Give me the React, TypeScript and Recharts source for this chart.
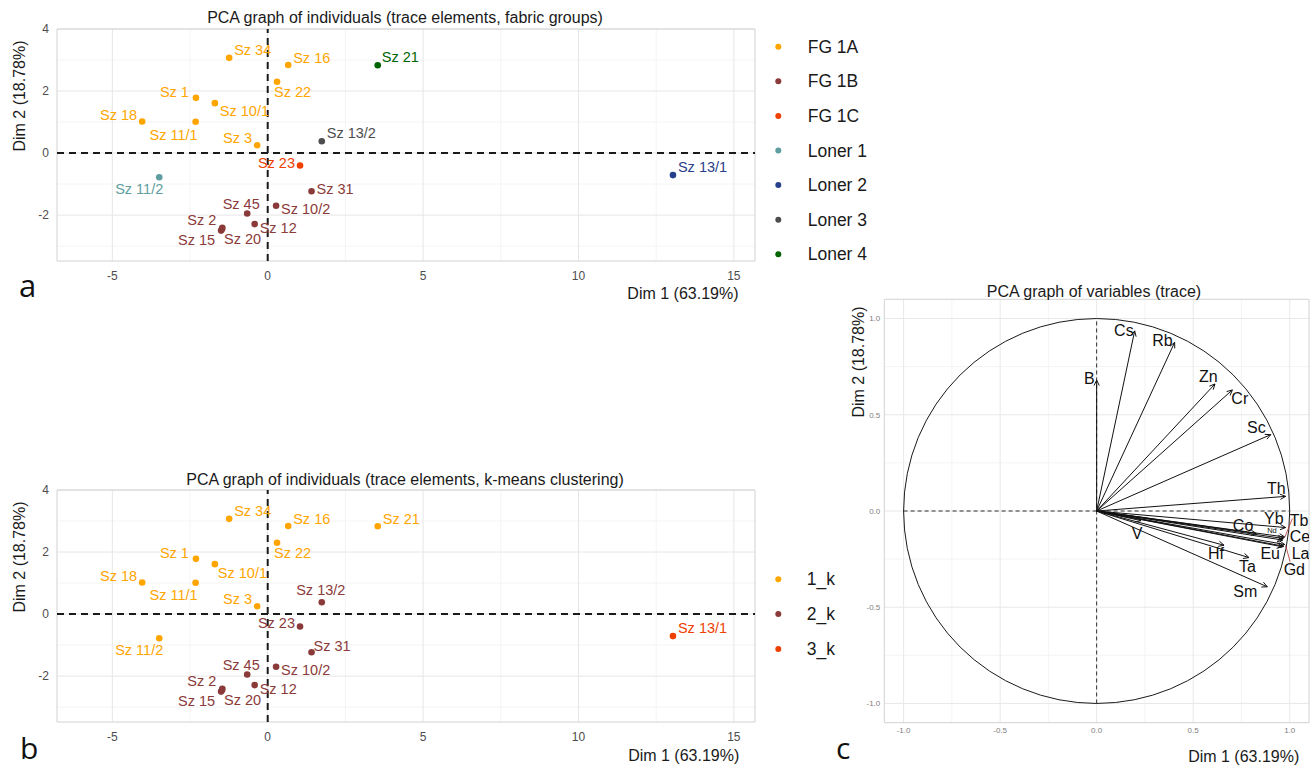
import React from 'react';
import {
  ScatterChart,
  Scatter,
  XAxis,
  YAxis,
  CartesianGrid,
  ReferenceLine,
  ReferenceArea,
} from 'recharts';

const FONT = '"Liberation Sans", Arial, Helvetica, sans-serif';

// ---------- individuals (panels a & b) ----------
const sampleNames = [
  'Sz 34', 'Sz 16', 'Sz 21', 'Sz 22', 'Sz 1', 'Sz 10/1', 'Sz 18', 'Sz 11/1', 'Sz 3', 'Sz 13/2',
  'Sz 23', 'Sz 11/2', 'Sz 31', 'Sz 10/2', 'Sz 45', 'Sz 12', 'Sz 2', 'Sz 15', 'Sz 20', 'Sz 13/1',
];
const dim1 = [
  -1.24, 0.66, 3.54, 0.30, -2.31, -1.70, -4.04, -2.32, -0.34, 1.74,
  1.04, -3.49, 1.41, 0.27, -0.66, -0.42, -1.46, -1.50, -1.47, 13.04,
];
const dim2 = [
  3.07, 2.84, 2.83, 2.30, 1.78, 1.61, 1.02, 1.01, 0.25, 0.38,
  -0.40, -0.78, -1.23, -1.70, -1.95, -2.29, -2.41, -2.50, -2.45, -0.71,
];
const fabricGroupOf = [
  'FG 1A', 'FG 1A', 'Loner 4', 'FG 1A', 'FG 1A', 'FG 1A', 'FG 1A', 'FG 1A', 'FG 1A', 'Loner 3',
  'FG 1C', 'Loner 1', 'FG 1B', 'FG 1B', 'FG 1B', 'FG 1B', 'FG 1B', 'FG 1B', 'FG 1B', 'Loner 2',
];
const clusterOf = [
  '1_k', '1_k', '1_k', '1_k', '1_k', '1_k', '1_k', '1_k', '1_k', '2_k',
  '2_k', '1_k', '2_k', '2_k', '2_k', '2_k', '2_k', '2_k', '2_k', '3_k',
];
const fabricGroups = ['FG 1A', 'FG 1B', 'FG 1C', 'Loner 1', 'Loner 2', 'Loner 3', 'Loner 4'];
const clusters = ['1_k', '2_k', '3_k'];

const groupColors: Record<string, string> = {
  'FG 1A': '#FFA500',
  'FG 1B': '#8B3A3A',
  'FG 1C': '#EE4000',
  'Loner 1': '#5F9EA0',
  'Loner 2': '#27408B',
  'Loner 3': '#4D4D4D',
  'Loner 4': '#006400',
  '1_k': '#FFA500',
  '2_k': '#8B3A3A',
  '3_k': '#EE4000',
};

const X_TICKS = [-5, 0, 5, 10, 15];
const X_MINOR = [-2.5, 2.5, 7.5, 12.5];
const Y_TICKS = [-2, 0, 2, 4];
const Y_MINOR = [-3, -1, 1, 3];
const X_DOMAIN: [number, number] = [-6.78, 15.68];
const Y_DOMAIN: [number, number] = [-3.48, 4];

// ---------- variables (panel c) ----------
const variableNames = ['B', 'Cs', 'Rb', 'Zn', 'Cr', 'Sc', 'Th', 'Yb', 'Tb', 'Ce', 'La', 'Gd', 'Eu', 'Nd', 'Co', 'Hf', 'Ta', 'Sm', 'V'];
const varDim1 = [0.0, 0.197, 0.404, 0.613, 0.703, 0.902, 0.979, 0.979, 0.974, 0.964, 0.969, 0.974, 0.962, 0.967, 0.827, 0.66, 0.789, 0.884, 0.23];
const varDim2 = [0.68, 0.936, 0.876, 0.66, 0.629, 0.397, 0.076, -0.086, -0.135, -0.151, -0.183, -0.174, -0.186, -0.143, -0.117, -0.178, -0.242, -0.394, -0.05];
const connectorFromX = [1.014, 0.979];
const connectorFromY = [-0.039, -0.178];
const connectorToX = [0.975, 1.002];
const connectorToY = [-0.135, -0.264];
const C_TICKS = [-1, -0.5, 0, 0.5, 1];
const C_MINOR = [-0.75, -0.25, 0.25, 0.75];
const C_DOMAIN: [number, number] = [-1.1, 1.1];

// ---------- label placement (layout only) ----------
type Off = { a: 'start' | 'middle' | 'end'; dx: number; dy: number };
const offsetsA: Record<string, Off> = {
  'Sz 34': { a: 'start', dx: 5, dy: -8 },
  'Sz 16': { a: 'start', dx: 5, dy: -7 },
  'Sz 21': { a: 'start', dx: 4, dy: -8 },
  'Sz 22': { a: 'start', dx: -3, dy: 10 },
  'Sz 1': { a: 'end', dx: -7, dy: -6 },
  'Sz 10/1': { a: 'start', dx: 5, dy: 8 },
  'Sz 18': { a: 'end', dx: -5, dy: -6 },
  'Sz 11/1': { a: 'end', dx: 2, dy: 13 },
  'Sz 3': { a: 'end', dx: -5, dy: -7 },
  'Sz 13/2': { a: 'start', dx: 5, dy: -8 },
  'Sz 23': { a: 'end', dx: -5, dy: -2 },
  'Sz 11/2': { a: 'end', dx: 4, dy: 12 },
  'Sz 31': { a: 'start', dx: 5, dy: -2 },
  'Sz 10/2': { a: 'start', dx: 5, dy: 3 },
  'Sz 45': { a: 'middle', dx: -6, dy: -10 },
  'Sz 12': { a: 'start', dx: 5, dy: 4 },
  'Sz 2': { a: 'end', dx: -6, dy: -8 },
  'Sz 15': { a: 'end', dx: -6, dy: 9 },
  'Sz 20': { a: 'start', dx: 2, dy: 10 },
  'Sz 13/1': { a: 'start', dx: 5, dy: -8 },
};
const offsetsB: Record<string, Off> = {
  ...offsetsA,
  'Sz 13/2': { a: 'middle', dx: -1, dy: -12 },
  'Sz 31': { a: 'start', dx: 2, dy: -6 },
  'Sz 21': { a: 'start', dx: 5, dy: -7 },
  'Sz 11/1': { a: 'end', dx: 2, dy: 12 },
  'Sz 10/1': { a: 'start', dx: 3, dy: 9 },
  'Sz 23': { a: 'end', dx: -5, dy: -3 },
};
const offsetsC: Record<string, Off> = {
  B: { a: 'end', dx: -2, dy: -2 },
  Cs: { a: 'end', dx: -1, dy: 0 },
  Rb: { a: 'end', dx: -2, dy: -2 },
  Zn: { a: 'middle', dx: -6.6, dy: -7 },
  Cr: { a: 'start', dx: -1, dy: 9 },
  Sc: { a: 'end', dx: -5, dy: -7 },
  Th: { a: 'end', dx: 0, dy: -8 },
  Yb: { a: 'end', dx: -2, dy: -9 },
  Tb: { a: 'start', dx: 5, dy: -16 },
  Ce: { a: 'start', dx: 7, dy: -4 },
  La: { a: 'start', dx: 8, dy: 7 },
  Gd: { a: 'start', dx: -1, dy: 25 },
  Eu: { a: 'end', dx: -2.4, dy: 6.6 },
  Nd: { a: 'middle', dx: -11.4, dy: -8.3 },
  Co: { a: 'end', dx: -3, dy: -8 },
  Hf: { a: 'end', dx: 0, dy: 8 },
  Ta: { a: 'middle', dx: -1.6, dy: 9.4 },
  Sm: { a: 'end', dx: -10, dy: 5 },
  V: { a: 'middle', dx: -4, dy: 13 },
};

const makePointShape = (color: string, offsets: Record<string, Off>) => (props: any) => {
  const { cx, cy, payload } = props;
  if (cx == null || cy == null) return <g />;
  const o = offsets[payload.name] || { a: 'start', dx: 5, dy: -8 };
  return (
    <g>
      <circle cx={cx} cy={cy} r={3.3} fill={color} />
      <text
        x={cx + o.dx}
        y={cy + o.dy}
        textAnchor={o.a}
        dominantBaseline="central"
        fontSize={14.5}
        fontFamily={FONT}
        fill={color}
      >
        {payload.name}
      </text>
    </g>
  );
};

function IndividualsChart({
  top,
  groupOf,
  groups,
  offsets,
}: {
  top: number;
  groupOf: string[];
  groups: string[];
  offsets: Record<string, Off>;
}) {
  const points = sampleNames.map((name, i) => ({ name, x: dim1[i], y: dim2[i], group: groupOf[i] }));
  return (
    <div style={{ position: 'absolute', left: 0, top, width: 760, height: 300 }}>
      <ScatterChart width={760} height={300} margin={{ top: 29, right: 5, bottom: 14, left: 17 }}>
        <CartesianGrid horizontalValues={Y_MINOR} verticalValues={X_MINOR} stroke="#f4f4f4" />
        <CartesianGrid horizontalValues={Y_TICKS} verticalValues={X_TICKS} stroke="#e6e6e6" />
        <XAxis
          type="number"
          dataKey="x"
          domain={X_DOMAIN}
          ticks={X_TICKS}
          interval={0}
          allowDataOverflow
          axisLine={false}
          tickLine={false}
          height={25}
          tickSize={6}
          tickMargin={4}
          tick={{ fontSize: 12, fill: '#4d4d4d', fontFamily: FONT }}
        />
        <YAxis
          type="number"
          dataKey="y"
          domain={Y_DOMAIN}
          ticks={Y_TICKS}
          interval={0}
          allowDataOverflow
          axisLine={false}
          tickLine={false}
          width={40}
          tickSize={6}
          tickMargin={2}
          tick={{ fontSize: 12, fill: '#4d4d4d', fontFamily: FONT }}
        />
        <ReferenceArea
          x1={X_DOMAIN[0]}
          x2={X_DOMAIN[1]}
          y1={Y_DOMAIN[0]}
          y2={Y_DOMAIN[1]}
          fill="none"
          fillOpacity={0}
          stroke="#d2d2d2"
          strokeWidth={1}
        />
        <ReferenceLine x={0} stroke="#1a1a1a" strokeWidth={2} strokeDasharray="7 5" />
        <ReferenceLine y={0} stroke="#1a1a1a" strokeWidth={2} strokeDasharray="7 5" />
        {groups.map((g) => (
          <Scatter
            key={g}
            name={g}
            data={points.filter((p) => p.group === g)}
            fill={groupColors[g]}
            isAnimationActive={false}
            shape={makePointShape(groupColors[g], offsets)}
          />
        ))}
      </ScatterChart>
    </div>
  );
}

const ellipseShape = (p: any) => {
  const { x1, y1, x2, y2 } = p;
  return (
    <ellipse
      cx={(x1 + x2) / 2}
      cy={(y1 + y2) / 2}
      rx={Math.abs(x2 - x1) / 2}
      ry={Math.abs(y2 - y1) / 2}
      fill="none"
      stroke="#1a1a1a"
      strokeWidth={1}
    />
  );
};

const arrowShape = (p: any) => {
  const { x1, y1, x2, y2 } = p;
  const ang = Math.atan2(y2 - y1, x2 - x1);
  const L = 6;
  const a = 0.45;
  const hx1 = x2 - L * Math.cos(ang - a);
  const hy1 = y2 - L * Math.sin(ang - a);
  const hx2 = x2 - L * Math.cos(ang + a);
  const hy2 = y2 - L * Math.sin(ang + a);
  return (
    <g>
      <line x1={x1} y1={y1} x2={x2} y2={y2} stroke="#111" strokeWidth={1} />
      <polyline points={`${hx1},${hy1} ${x2},${y2} ${hx2},${hy2}`} fill="none" stroke="#111" strokeWidth={1} />
    </g>
  );
};

const varLabelShape = (props: any) => {
  const { cx, cy, payload } = props;
  if (cx == null || cy == null) return <g />;
  const o = offsetsC[payload.name] || { a: 'start', dx: 3, dy: -6 };
  const small = payload.name === 'Nd';
  return (
    <text
      x={cx + o.dx}
      y={cy + o.dy}
      textAnchor={o.a}
      dominantBaseline="central"
      fontSize={small ? 7.5 : 16}
      fontFamily={FONT}
      fill="#111"
    >
      {payload.name}
    </text>
  );
};

function VariablesChart() {
  const tips = variableNames.map((name, i) => ({ name, x: varDim1[i], y: varDim2[i] }));
  const tickStyle = { fontSize: 8, fill: '#808080', fontFamily: FONT };
  return (
    <div style={{ position: 'absolute', left: 840, top: 270, width: 471, height: 498 }}>
      <ScatterChart width={471} height={498} margin={{ top: 29.3, right: 2, bottom: 25.3, left: 14.3 }}>
        <CartesianGrid horizontalValues={C_MINOR} verticalValues={C_MINOR} stroke="#f4f4f4" />
        <CartesianGrid horizontalValues={C_TICKS} verticalValues={C_TICKS} stroke="#e8e8e8" />
        <XAxis
          type="number"
          dataKey="x"
          domain={C_DOMAIN}
          ticks={C_TICKS}
          interval={0}
          allowDataOverflow
          axisLine={false}
          tickLine={false}
          height={20}
          tickSize={3}
          tickMargin={2}
          tickFormatter={(v: number) => v.toFixed(1)}
          tick={tickStyle}
        />
        <YAxis
          type="number"
          dataKey="y"
          domain={C_DOMAIN}
          ticks={C_TICKS}
          interval={0}
          allowDataOverflow
          axisLine={false}
          tickLine={false}
          width={30}
          tickSize={2}
          tickMargin={2}
          tickFormatter={(v: number) => v.toFixed(1)}
          tick={tickStyle}
        />
        <ReferenceArea
          x1={C_DOMAIN[0]}
          x2={C_DOMAIN[1]}
          y1={C_DOMAIN[0]}
          y2={C_DOMAIN[1]}
          fill="none"
          fillOpacity={0}
          stroke="#d2d2d2"
          strokeWidth={1}
        />
        <ReferenceLine
          segment={[{ x: -1, y: 0 }, { x: 1, y: 0 }]}
          stroke="#1a1a1a"
          strokeWidth={0.9}
          strokeDasharray="4 3"
        />
        <ReferenceLine
          segment={[{ x: 0, y: -1 }, { x: 0, y: 1 }]}
          stroke="#1a1a1a"
          strokeWidth={0.9}
          strokeDasharray="4 3"
        />
        <ReferenceLine segment={[{ x: -1, y: -1 }, { x: 1, y: 1 }]} shape={ellipseShape} />
        {tips.map((t) => (
          <ReferenceLine key={t.name} segment={[{ x: 0, y: 0 }, { x: t.x, y: t.y }]} shape={arrowShape} />
        ))}
        {connectorFromX.map((fx, i) => (
          <ReferenceLine
            key={'c' + i}
            segment={[{ x: fx, y: connectorFromY[i] }, { x: connectorToX[i], y: connectorToY[i] }]}
            stroke="#b03030"
            strokeWidth={0.8}
          />
        ))}
        <Scatter data={tips} isAnimationActive={false} shape={varLabelShape} />
      </ScatterChart>
    </div>
  );
}

function Overlay() {
  const t = { fontFamily: FONT, fill: '#1a1a1a' };
  const letterFont = '"Open Sans", "DejaVu Sans", sans-serif';
  return (
    <svg
      width={1311}
      height={768}
      style={{ position: 'absolute', left: 0, top: 0, pointerEvents: 'none' }}
    >
      {/* titles */}
      <text x={405} y={17} textAnchor="middle" dominantBaseline="central" fontSize={16} {...t}>
        PCA graph of individuals (trace elements, fabric groups)
      </text>
      <text x={405} y={479.5} textAnchor="middle" dominantBaseline="central" fontSize={16} {...t}>
        PCA graph of individuals (trace elements, k-means clustering)
      </text>
      <text x={1094} y={291.5} textAnchor="middle" dominantBaseline="central" fontSize={16} {...t}>
        PCA graph of variables (trace)
      </text>
      {/* axis titles */}
      <text x={738.5} y={293} textAnchor="end" dominantBaseline="central" fontSize={16} {...t}>
        Dim 1 (63.19%)
      </text>
      <text x={19} y={96} textAnchor="middle" dominantBaseline="central" fontSize={16} transform="rotate(-90 19 96)" {...t}>
        Dim 2 (18.78%)
      </text>
      <text x={739.3} y={755} textAnchor="end" dominantBaseline="central" fontSize={16} {...t}>
        Dim 1 (63.19%)
      </text>
      <text x={19} y={557} textAnchor="middle" dominantBaseline="central" fontSize={16} transform="rotate(-90 19 557)" {...t}>
        Dim 2 (18.78%)
      </text>
      <text x={1299.3} y={756} textAnchor="end" dominantBaseline="central" fontSize={16} {...t}>
        Dim 1 (63.19%)
      </text>
      <text x={858} y={362} textAnchor="middle" dominantBaseline="central" fontSize={16} transform="rotate(-90 858 362)" {...t}>
        Dim 2 (18.78%)
      </text>
      {/* panel letters */}
      <text x={19} y={297} fontSize={31} fontFamily={letterFont} fill="#111">a</text>
      <text x={20} y={759} fontSize={30} fontFamily={letterFont} fill="#111">b</text>
      <text x={836} y={759} fontSize={30} fontFamily={letterFont} fill="#111">c</text>
      {/* legends */}
      {fabricGroups.map((g, i) => (
        <g key={g}>
          <circle cx={778.3} cy={46.7 + i * 34.6} r={3} fill={groupColors[g]} />
          <text x={807.7} y={46.7 + i * 34.6} dominantBaseline="central" fontSize={17.5} {...t}>
            {g}
          </text>
        </g>
      ))}
      {clusters.map((g, i) => (
        <g key={g}>
          <circle cx={778.3} cy={579.3 + i * 34.8} r={3} fill={groupColors[g]} />
          <text x={806.7} y={579.3 + i * 34.8} dominantBaseline="central" fontSize={17.5} {...t}>
            {g}
          </text>
        </g>
      ))}
    </svg>
  );
}

export default function App() {
  return (
    <div style={{ position: 'absolute', left: 0, top: 0, width: 1311, height: 768, background: '#fff', overflow: 'hidden' }}>
      <IndividualsChart top={0} groupOf={fabricGroupOf} groups={fabricGroups} offsets={offsetsA} />
      <IndividualsChart top={461} groupOf={clusterOf} groups={clusters} offsets={offsetsB} />
      <VariablesChart />
      <Overlay />
    </div>
  );
}
